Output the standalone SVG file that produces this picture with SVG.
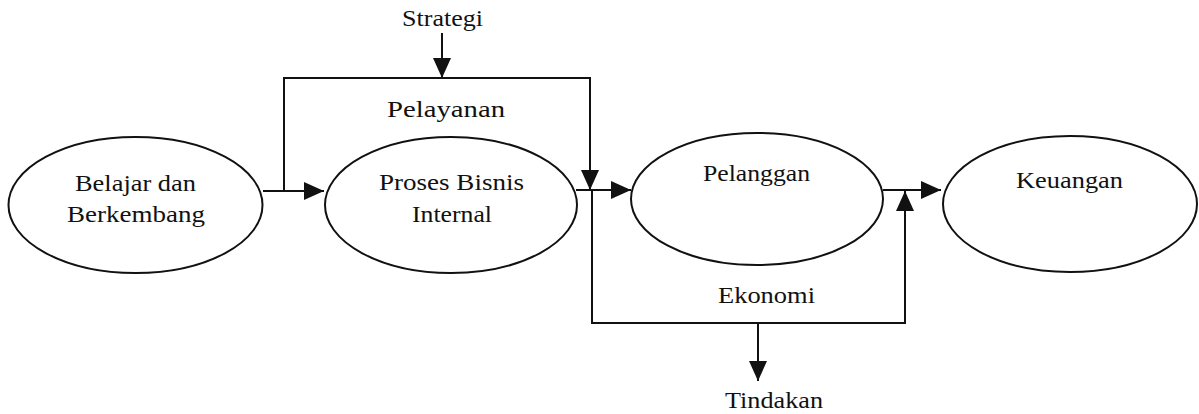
<svg xmlns="http://www.w3.org/2000/svg" width="1199" height="414" viewBox="0 0 1199 414">
  <style>
    .node { fill: #ffffff; stroke: #111111; stroke-width: 2; }
    .wire { fill: none; stroke: #111111; stroke-width: 2; }
    .lbl { font-family: "Liberation Serif", "Times New Roman", serif; font-size: 23px; fill: #111111; text-anchor: start; }
  </style>
  <defs>
    <marker id="arrow" viewBox="0 0 20 18" refX="20" refY="9" markerWidth="20" markerHeight="18" markerUnits="userSpaceOnUse" orient="auto">
      <path d="M0,0 L20,9 L0,18 Z" fill="#111111"/>
    </marker>
  </defs>
  <rect width="1199" height="414" fill="#ffffff"/>

  <!-- Connectors -->
  <g id="connectors">
    <!-- Belajar dan Berkembang -> Proses Bisnis Internal -->
    <line class="wire" x1="263" y1="191" x2="324" y2="191" marker-end="url(#arrow)"/>
    <!-- Strategi -> service loop -->
    <line class="wire" x1="442" y1="33" x2="442" y2="78" marker-end="url(#arrow)"/>
    <polyline class="wire" points="284,191 284,78 590,78 590,190" marker-end="url(#arrow)"/>
    <!-- Proses Bisnis Internal -> Pelanggan -->
    <line class="wire" x1="576" y1="190" x2="631" y2="190" marker-end="url(#arrow)"/>
    <!-- Economy loop -->
    <polyline class="wire" points="592,190 592,323 905,323 905,191" marker-end="url(#arrow)"/>
    <line class="wire" x1="758" y1="323" x2="758" y2="381" marker-end="url(#arrow)"/>
    <!-- Pelanggan -> Keuangan -->
    <line class="wire" x1="883" y1="190" x2="941" y2="190" marker-end="url(#arrow)"/>
  </g>

  <g id="node-belajar">
    <ellipse class="node" cx="135.5" cy="205" rx="127" ry="68"/>
    <text class="lbl" x="75" y="191" textLength="121" lengthAdjust="spacingAndGlyphs">Belajar dan</text>
    <text class="lbl" x="67" y="222" textLength="138" lengthAdjust="spacingAndGlyphs">Berkembang</text>
  </g>

  <g id="node-proses">
    <ellipse class="node" cx="451" cy="205" rx="126" ry="68"/>
    <text class="lbl" x="379" y="190" textLength="145" lengthAdjust="spacingAndGlyphs">Proses Bisnis</text>
    <text class="lbl" x="412" y="222" textLength="80" lengthAdjust="spacingAndGlyphs">Internal</text>
  </g>

  <g id="node-pelanggan">
    <ellipse class="node" cx="757" cy="199" rx="126" ry="66"/>
    <text class="lbl" x="703" y="181" textLength="107" lengthAdjust="spacingAndGlyphs">Pelanggan</text>
  </g>

  <g id="node-keuangan">
    <ellipse class="node" cx="1070" cy="204" rx="127" ry="68"/>
    <text class="lbl" x="1016" y="188" textLength="107" lengthAdjust="spacingAndGlyphs">Keuangan</text>
  </g>

  <g id="labels">
    <text class="lbl" x="402" y="26" textLength="81" lengthAdjust="spacingAndGlyphs">Strategi</text>
    <text class="lbl" x="387" y="117" textLength="118" lengthAdjust="spacingAndGlyphs">Pelayanan</text>
    <text class="lbl" x="718" y="303" textLength="97" lengthAdjust="spacingAndGlyphs">Ekonomi</text>
    <text class="lbl" x="725" y="408" textLength="98" lengthAdjust="spacingAndGlyphs">Tindakan</text>
  </g>
</svg>
